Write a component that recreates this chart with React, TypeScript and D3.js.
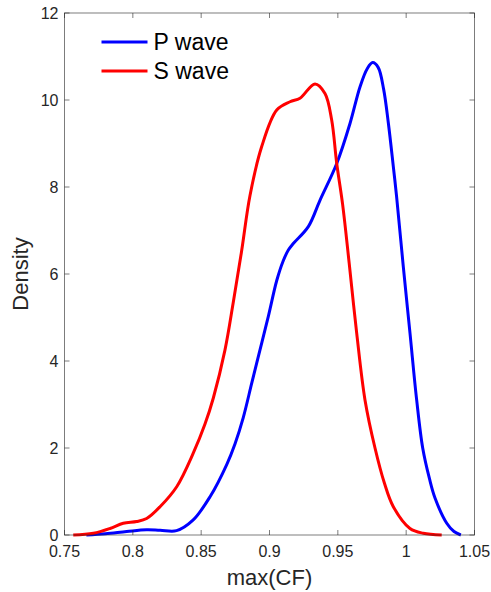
import React from 'react';
import * as d3 from 'd3';

// values (x = max(CF), y = density)
const pX = [0.766, 0.78, 0.7955, 0.81, 0.82, 0.832, 0.844, 0.8565, 0.8687, 0.8748, 0.8808, 0.887, 0.893, 0.8991, 0.9053, 0.91, 0.9138, 0.9174, 0.9284, 0.937, 0.9492, 0.9589, 0.9662, 0.9715, 0.9755, 0.9795, 0.9835, 0.987, 0.9906, 0.993, 0.9979, 1.0028, 1.0077, 1.0121, 1.017, 1.0211, 1.0297, 1.035, 1.04];
const pY = [0, 0.03, 0.08, 0.12, 0.11, 0.1, 0.34, 0.88, 1.62, 2.1, 2.7, 3.49, 4.25, 5.02, 5.85, 6.3, 6.55, 6.7, 7.09, 7.7, 8.54, 9.46, 10.3, 10.72, 10.86, 10.75, 10.25, 9.46, 8.47, 7.78, 6.17, 4.64, 3.1, 2.0, 1.3, 0.85, 0.27, 0.08, 0];

const sX = [0.7564, 0.7711, 0.7833, 0.793, 0.8028, 0.8101, 0.8199, 0.8321, 0.8442, 0.8528, 0.8589, 0.8674, 0.8735, 0.8797, 0.8857, 0.8943, 0.9053, 0.915, 0.9223, 0.9333, 0.9406, 0.9455, 0.9492, 0.9535, 0.9583, 0.9638, 0.9699, 0.9772, 0.984, 0.9906, 1.0028, 1.0125, 1.026];
const sY = [0, 0.04, 0.15, 0.27, 0.31, 0.38, 0.65, 1.11, 1.88, 2.55, 3.15, 4.25, 5.35, 6.55, 7.8, 8.93, 9.77, 9.96, 10.04, 10.37, 10.15, 9.54, 8.54, 7.6, 6.25, 4.64, 3.1, 2.0, 1.2, 0.65, 0.15, 0.04, 0];

const xTicks = [0.75, 0.8, 0.85, 0.9, 0.95, 1, 1.05];
const yTicks = [0, 2, 4, 6, 8, 10, 12];

const series = [
  { name: 'P wave', color: '#0000ff', xs: pX, ys: pY },
  { name: 'S wave', color: '#ff0000', xs: sX, ys: sY },
];

export default function App() {
  const width = 491;
  const height = 592;
  const margin = { top: 13, right: 16.5, bottom: 57, left: 64.5 };
  const innerW = width - margin.left - margin.right;
  const innerH = height - margin.top - margin.bottom;

  const x = d3.scaleLinear().domain([0.75, 1.05]).range([0, innerW]);
  const y = d3.scaleLinear().domain([0, 12]).range([innerH, 0]);

  const line = d3.line<[number, number]>()
    .x(d => x(d[0]))
    .y(d => y(d[1]))
    .curve(d3.curveCatmullRom.alpha(0.5));

  const font = '"Liberation Sans", Arial, Helvetica, sans-serif';
  const axisColor = '#262626';
  const tickLen = 5;

  return (
    <svg width={width} height={height} style={{ position: 'absolute', left: 0, top: 0, background: '#fff' }} fontFamily={font}>
      <g transform={`translate(${margin.left},${margin.top})`}>
        {/* curves */}
        {series.map(s => (
          <path key={s.name} d={line(s.xs.map((v, i) => [v, s.ys[i]] as [number, number])) || ''}
            fill="none" stroke={s.color} strokeWidth={3} strokeLinejoin="round" />
        ))}

        {/* box */}
        <rect x={0} y={0} width={innerW} height={innerH} fill="none" stroke={axisColor} strokeWidth={0.8} opacity={0.75} />

        {/* x ticks */}
        {xTicks.map(t => (
          <g key={'x' + t}>
            <line x1={x(t)} x2={x(t)} y1={innerH} y2={innerH - tickLen} stroke={axisColor} strokeWidth={0.8} opacity={0.75} />
            <line x1={x(t)} x2={x(t)} y1={0} y2={tickLen} stroke={axisColor} strokeWidth={0.8} opacity={0.75} />
            <text x={x(t)} y={innerH + 22} textAnchor="middle" fontSize={16} fill={axisColor}>{String(t)}</text>
          </g>
        ))}

        {/* y ticks */}
        {yTicks.map(t => (
          <g key={'y' + t}>
            <line x1={0} x2={tickLen} y1={y(t)} y2={y(t)} stroke={axisColor} strokeWidth={0.8} opacity={0.75} />
            <line x1={innerW} x2={innerW - tickLen} y1={y(t)} y2={y(t)} stroke={axisColor} strokeWidth={0.8} opacity={0.75} />
            <text x={-6} y={y(t)} dy="0.35em" textAnchor="end" fontSize={16} fill={axisColor}>{t}</text>
          </g>
        ))}

        {/* axis labels */}
        <text x={innerW / 2} y={innerH + 50} textAnchor="middle" fontSize={22} fill={axisColor}>max(CF)</text>
        <text transform={`translate(${-37},${innerH / 2}) rotate(-90)`} textAnchor="middle" fontSize={22} fill={axisColor}>Density</text>

        {/* legend */}
        {series.map((s, i) => (
          <g key={'leg' + s.name} transform={`translate(37,${29 + i * 29})`}>
            <line x1={0} x2={46} y1={0} y2={0} stroke={s.color} strokeWidth={3} />
            <text x={52} y={0} dy="0.35em" fontSize={23} fill="#000">{s.name}</text>
          </g>
        ))}
      </g>
    </svg>
  );
}
